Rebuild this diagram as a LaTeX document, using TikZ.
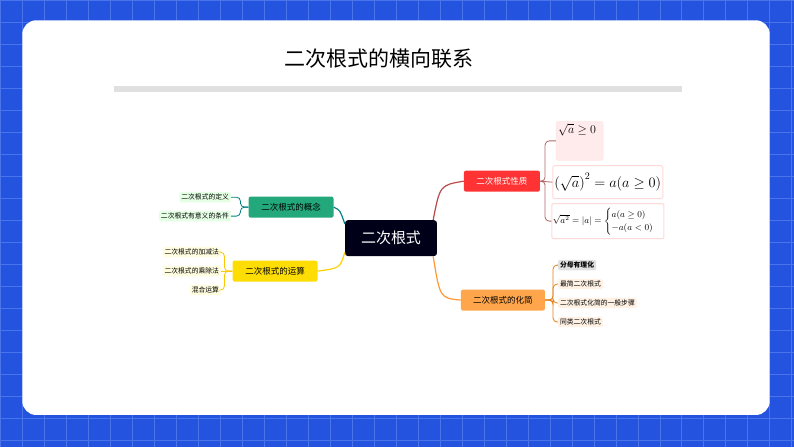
\documentclass[tikz,border=0pt]{standalone}
\usepackage{amsmath,amssymb}
\usepackage{fontspec}
\setmainfont{Noto Sans CJK SC}
\begin{document}
\begin{tikzpicture}[x=1pt,y=-1pt,
 br/.style={rounded corners=2pt,minimum height=21pt,inner xsep=6pt,font=\fontsize{8.5}{9}\selectfont},
 lf/.style={rounded corners=2pt,inner sep=2pt,font=\fontsize{6.8}{7.5}\selectfont},
 con/.style={line width=1.2pt,rounded corners=4pt}]
\definecolor{bgblue}{HTML}{2453E0}
\definecolor{gridl}{HTML}{4A74EA}
\definecolor{gbr}{HTML}{22A87A}
\fill[bgblue] (0,0) rectangle (794,447);
\foreach \i in {0,22,...,794} \draw[gridl,line width=0.6pt] (\i,0) -- (\i,447);
\foreach \j in {0,22,...,447} \draw[gridl,line width=0.6pt] (0,\j) -- (794,\j);
\fill[white,rounded corners=14pt] (22,20) rectangle (770,415);
\useasboundingbox (0,0) rectangle (794,447);
\node (title) at (379,58) {\fontsize{21}{22}\selectfont 二次根式的横向联系};
\fill[black!12] (114,86) rectangle (682,92);
% center
\node[fill=black!90!blue,text=white,rounded corners=3pt,minimum width=92pt,minimum height=36pt,font=\fontsize{15}{16}\selectfont] (c) at (391,238) {二次根式};
% branches
\node[br,fill=gbr,minimum width=85pt] (g) at (291,207) {二次根式的概念};
\node[br,fill=yellow!80!orange,minimum width=85pt] (y) at (275,271) {二次根式的运算};
\node[br,fill=red!80!white,text=white,minimum width=76pt] (r) at (502,181) {二次根式性质};
\node[br,fill=orange!70!white,minimum width=84pt] (o) at (503,300) {二次根式的化简};
\draw[con,teal] (c.north west) ++(0,4) .. controls (340,210) .. (g.east);
\draw[con,yellow!70!orange] (c.south west) ++(0,-4) .. controls (340,268) .. (y.east);
\draw[con,red!60!black!70] (c.north east) ++(-4,0) .. controls (440,185) .. (r.west);
\draw[con,orange!80] (c.south east) ++(-4,0) .. controls (440,298) .. (o.west);
% leaves green
\node[lf,fill=green!10,anchor=east] (g1) at (231,197) {二次根式的定义};
\node[lf,fill=green!10,anchor=east] (g2) at (231,216) {二次根式有意义的条件};
\draw[con,line width=0.8pt,teal] (g.west) -- ++(-8,0) |- (g1.east);
\draw[con,line width=0.8pt,teal] (g.west) -- ++(-8,0) |- (g2.east);
% yellow
\node[lf,fill=yellow!12,anchor=east] (y1) at (221,252) {二次根式的加减法};
\node[lf,fill=yellow!12,anchor=east] (y2) at (221,271) {二次根式的乘除法};
\node[lf,fill=yellow!12,anchor=east] (y3) at (221,290) {混合运算};
\draw[con,line width=0.8pt,yellow!60!orange] (y.west) -- ++(-8,0) |- (y1.east);
\draw[con,line width=0.8pt,yellow!60!orange] (y.west) -- (y2.east);
\draw[con,line width=0.8pt,yellow!60!orange] (y.west) -- ++(-8,0) |- (y3.east);
% red
\node[fill=red!8,draw=red!10,rounded corners=2pt,minimum width=47pt,minimum height=39pt,inner sep=1pt,anchor=north west] (r1) at (556,121) {};
\node[anchor=north west,inner sep=2pt,font=\large] at (r1.north west) {$\sqrt{a}\geq 0$};
\node[draw=red!15,line width=1pt,rounded corners=2pt,minimum width=110pt,minimum height=33pt,inner sep=1pt,font=\Large] (r2) at (608,182) {$\left(\sqrt{a}\right)^2=a(a\geq0)$};
\node[draw=red!15,line width=1pt,rounded corners=2pt,minimum width=110pt,minimum height=35pt,inner sep=1pt,font=\small] (r3) at (608,221) {$\sqrt{a^2}=|a|=\begin{cases}a(a\geq0)\\-a(a<0)\end{cases}$};
\draw[con,line width=0.8pt,red!50!black!60] (r.east) -- ++(5,0) |- (r1.west);
\draw[con,line width=0.8pt,red!50!black!60] (r.east) -- (r2.west);
\draw[con,line width=0.8pt,red!50!black!60] (r.east) -- ++(5,0) |- (r3.west);
% orange
\node[lf,fill=black!12,font=\fontsize{6.8}{7.5}\selectfont\bfseries,anchor=west] (o1) at (558,265) {分母有理化};
\node[lf,fill=orange!10,anchor=west] (o2) at (558,284) {最简二次根式};
\node[lf,fill=orange!10,anchor=west] (o3) at (558,303) {二次根式化简的一般步骤};
\node[lf,fill=orange!10,anchor=west] (o4) at (558,322) {同类二次根式};
\draw[con,line width=0.8pt,orange!60!brown] (o.east) -- ++(8,0) |- (o1.west);
\draw[con,line width=0.8pt,orange!60!brown] (o.east) -- ++(8,0) |- (o2.west);
\draw[con,line width=0.8pt,orange!60!brown] (o.east) -- ++(8,0) |- (o3.west);
\draw[con,line width=0.8pt,orange!60!brown] (o.east) -- ++(8,0) |- (o4.west);
\end{tikzpicture}
\end{document}
